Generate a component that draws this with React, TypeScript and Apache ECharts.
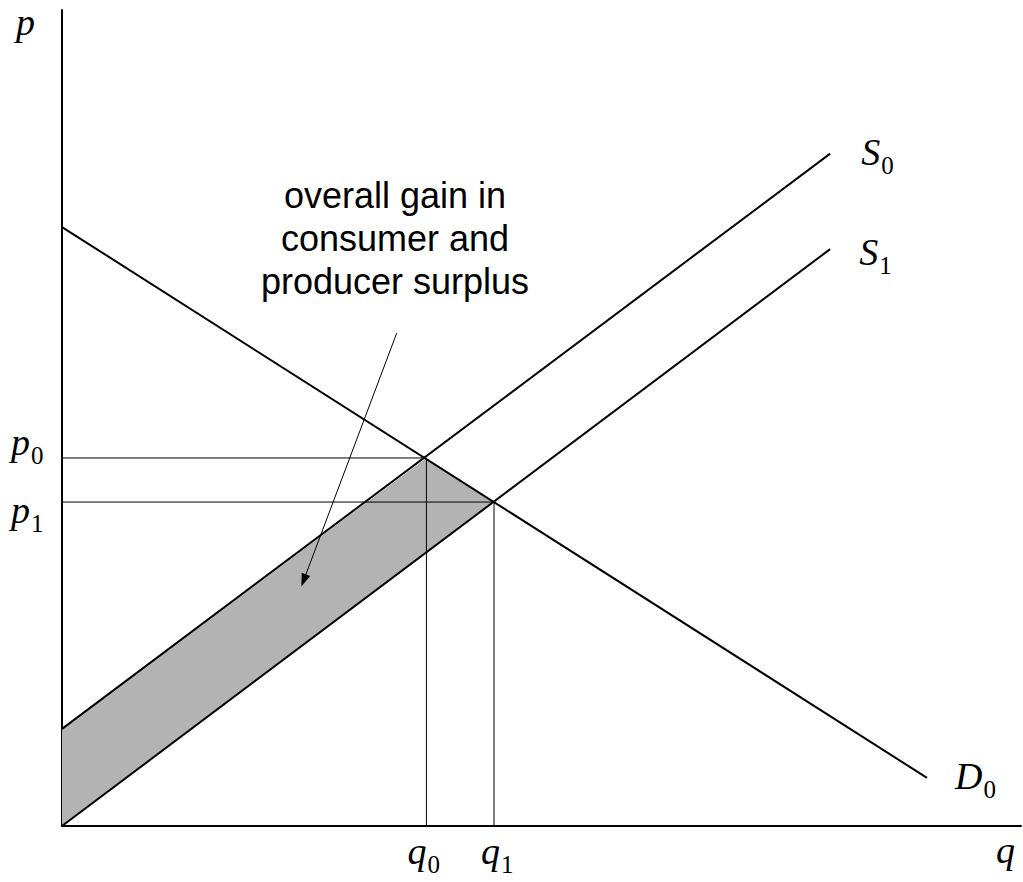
import React, { useEffect, useRef } from "react";
import * as echarts from "echarts";

// ---- data (abstract quantity / price units) ----
const quantityRange = [0, 100];
const priceRange = [0, 100];
const demandD0 = [[0, 73.4], [90.2, 5.9]];
const supplyS0 = [[0, 11.9], [80.1, 82.4]];
const supplyS1 = [[0, 0], [80.1, 70.7]];
const equilibrium0 = [38.0, 45.1]; // q0, p0
const equilibrium1 = [45.05, 39.7]; // q1, p1
const gainArea = [supplyS0[0], equilibrium0, equilibrium1, supplyS1[0]];
const guideP0 = [[0, equilibrium0[1]], equilibrium0, [equilibrium0[0], 0]];
const guideP1 = [[0, equilibrium1[1]], equilibrium1, [equilibrium1[0], 0]];
const arrowStart = [34.9, 60.4];
const arrowEnd = [25.2, 30.1];
const annotationLines = ["overall gain in", "consumer and", "producer surplus"];
const annotationAnchor = [34.72, 75.7];

// label: main letter, subscript, data anchor, pixel offset of glyph origin / baseline
const labels = [
  { main: "p", sub: "", anchor: [quantityRange[0], priceRange[1]], dx: -46, dy: 24.5 },
  { main: "p", sub: "0", anchor: [0, equilibrium0[1]], dx: -51, dy: -3 },
  { main: "p", sub: "1", anchor: [0, equilibrium1[1]], dx: -51, dy: 21 },
  { main: "q", sub: "0", anchor: [equilibrium0[0], 0], dx: -19, dy: 38 },
  { main: "q", sub: "1", anchor: [equilibrium1[0], 0], dx: -13, dy: 38 },
  { main: "q", sub: "", anchor: [quantityRange[1], 0], dx: -25, dy: 37 },
  { main: "S", sub: "0", anchor: supplyS0[1], dx: 31, dy: 11 },
  { main: "S", sub: "1", anchor: supplyS1[1], dx: 29, dy: 16 },
  { main: "D", sub: "0", anchor: demandD0[1], dx: 28, dy: 11 },
];

const SERIF = "'Liberation Serif', 'Times New Roman', serif";
const SANS = "'Liberation Sans', Arial, sans-serif";
const MAIN_SIZE = 38;
const SUB_SIZE = 25;
const ANNO_SIZE = 36;
const ANNO_LINE = 43;
const ADVANCE: Record<string, number> = { p: 0.5, q: 0.5, S: 0.5, D: 0.722 };

function middleFromBaseline(baseline: number, size: number, ratio: number) {
  return baseline - ratio * size;
}

function textEl(
  x: number,
  baseline: number,
  text: string,
  font: string,
  size: number,
  ratio: number,
  align = "left",
  lineHeight?: number
) {
  const y = middleFromBaseline(baseline, size, ratio);
  const style: any = {
    text,
    font,
    fill: "#000",
    align,
    textAlign: align,
    verticalAlign: "middle",
    textVerticalAlign: "middle",
  };
  if (lineHeight) style.lineHeight = lineHeight;
  return { type: "text", x, y, silent: true, style };
}

export default function App() {
  const ref = useRef<HTMLDivElement>(null);
  useEffect(() => {
    if (!ref.current) return;
    const chart = echarts.init(ref.current, null, { renderer: "svg" });
    const axisCommon = {
      type: "value",
      axisLine: { show: true, onZero: false, lineStyle: { color: "#000", width: 2 } },
      axisTick: { show: false },
      axisLabel: { show: false },
      splitLine: { show: false },
    };
    const lineStyleCurve = { color: "#000", width: 2 };
    const lineStyleGuide = { color: "#000", width: 1 };
    chart.setOption({
      animation: false,
      backgroundColor: "#fff",
      grid: { left: 62, right: 2, top: 10, bottom: 56 },
      xAxis: { ...axisCommon, min: quantityRange[0], max: quantityRange[1] },
      yAxis: { ...axisCommon, min: priceRange[0], max: priceRange[1] },
      series: [
        {
          type: "custom",
          z: 1,
          silent: true,
          data: [gainArea[0]],
          renderItem: (params: any, api: any) => {
            const pts = gainArea.map((p) => api.coord(p));
            return {
              type: "polygon",
              shape: { points: pts },
              style: { fill: "#b3b3b3", stroke: "none" },
            };
          },
        },
        {
          type: "line",
          z: 3,
          silent: true,
          data: guideP0,
          showSymbol: false,
          lineStyle: lineStyleGuide,
        },
        {
          type: "line",
          z: 3,
          silent: true,
          data: guideP1,
          showSymbol: false,
          lineStyle: lineStyleGuide,
        },
        {
          type: "line",
          z: 4,
          silent: true,
          data: supplyS0,
          showSymbol: false,
          lineStyle: lineStyleCurve,
        },
        {
          type: "line",
          z: 4,
          silent: true,
          data: supplyS1,
          showSymbol: false,
          lineStyle: lineStyleCurve,
        },
        {
          type: "line",
          z: 4,
          silent: true,
          data: demandD0,
          showSymbol: false,
          lineStyle: lineStyleCurve,
          markLine: {
            silent: true,
            symbol: ["none", "triangle"],
            symbolSize: [9, 13],
            label: { show: false },
            lineStyle: { color: "#000", width: 1, type: "solid" },
            itemStyle: { color: "#000" },
            emphasis: { disabled: true },
            data: [[{ coord: arrowStart }, { coord: arrowEnd }]],
          },
        },
      ],
    });

    const toPx = (p: number[]) => chart.convertToPixel({ gridIndex: 0 }, p) as number[];
    const graphics: any[] = [];
    labels.forEach((l) => {
      const [ax, ay] = toPx(l.anchor);
      const x = ax + l.dx;
      const base = ay + l.dy;
      graphics.push(
        textEl(x, base, l.main, `italic ${MAIN_SIZE}px ${SERIF}`, MAIN_SIZE, 0.3375, "left", 30)
      );
      if (l.sub) {
        const sx = x + (ADVANCE[l.main] || 0.5) * MAIN_SIZE + 1;
        graphics.push(textEl(sx, base + 9, l.sub, `${SUB_SIZE}px ${SERIF}`, SUB_SIZE, 0.3375, "left", 22));
      }
    });
    const [cx, cy] = toPx(annotationAnchor);
    annotationLines.forEach((t, i) => {
      graphics.push(textEl(cx, cy + i * ANNO_LINE, t, `${ANNO_SIZE}px ${SANS}`, ANNO_SIZE, 0.3465, "center"));
    });
    chart.setOption({ graphic: { elements: graphics } });

    return () => chart.dispose();
  }, []);
  return (
    <div
      ref={ref}
      style={{ position: "absolute", left: 0, top: 0, width: 1023, height: 882, background: "#fff" }}
    />
  );
}
